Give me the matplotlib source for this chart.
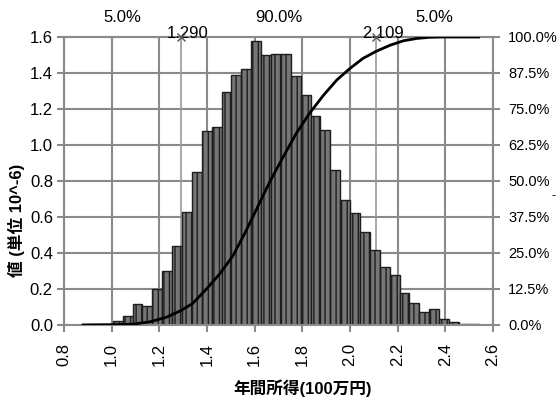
import numpy as np
import matplotlib
matplotlib.use("Agg")
import matplotlib.pyplot as plt
import matplotlib.transforms as mtransforms

plt.rcParams['font.family'] = ['Liberation Sans', 'Noto Sans CJK JP', 'DejaVu Sans']
plt.rcParams['hatch.linewidth'] = 1.0
plt.rcParams['hatch.color'] = '#2a2a2a'

# ---- data ----
bin_start = 0.88
bin_stop = 2.54
n_bins = 40
density = [0.003, 0.005, 0.005, 0.02, 0.05, 0.115, 0.105, 0.20, 0.30, 0.44,
           0.63, 0.85, 1.08, 1.10, 1.295, 1.39, 1.42, 1.58, 1.50, 1.505,
           1.505, 1.385, 1.28, 1.16, 1.085, 0.86, 0.695, 0.62, 0.515, 0.415,
           0.325, 0.28, 0.18, 0.12, 0.075, 0.087, 0.032, 0.018, 0.006, 0.005]

cdf_x = [0.88, 1.00, 1.09, 1.16, 1.23, 1.29, 1.34, 1.40, 1.455, 1.51, 1.565,
         1.62, 1.665, 1.72, 1.775, 1.83, 1.89, 1.945, 2.00, 2.055, 2.109,
         2.17, 2.225, 2.28, 2.335, 2.39, 2.54]
cdf_pct = [0, 0.1, 0.3, 1.1, 2.7, 5.0, 7.5, 12.7, 17.9, 24.2, 32.9,
           42.3, 50.0, 58.4, 66.6, 73.5, 79.9, 85.1, 89.1, 92.6, 95.0,
           97.2, 98.7, 99.5, 99.9, 100, 100]

delimiters = [1.290, 2.109]
delim_labels = ["1.290", "2.109"]
region_labels = ["5.0%", "90.0%", "5.0%"]

x_ticks = [0.8, 1.0, 1.2, 1.4, 1.6, 1.8, 2.0, 2.2, 2.4, 2.6]
y_ticks = [0.0, 0.2, 0.4, 0.6, 0.8, 1.0, 1.2, 1.4, 1.6]
pct_ticks = [0, 12.5, 25, 37.5, 50, 62.5, 75, 87.5, 100]

xlabel = "年間所得(100万円)"
ylabel = "値 (単位 10^-6)"

# ---- figure ----
fig = plt.figure(figsize=(5.58, 4.03), dpi=100)
ax = fig.add_axes([64/558, 1-325/403, (493-64)/558, (325-37)/403])
edges = np.linspace(bin_start, bin_stop, n_bins + 1)
width = edges[1] - edges[0]

grid_c = '#8a8a8a'
ax.set_xlim(0.8, 2.6)
ax.set_ylim(0, 1.6)
ax.set_xticks(x_ticks)
ax.set_yticks(y_ticks)
ax.set_xticklabels([f"{v:.1f}" for v in x_ticks], rotation=90, fontsize=12)
ax.set_yticklabels([f"{v:.1f}" for v in y_ticks], fontsize=12)
ax.grid(True, color=grid_c, linewidth=1.5, zorder=0)
ax.set_axisbelow(True)
for s in ax.spines.values():
    s.set_color(grid_c)
    s.set_linewidth(1.5)
ax.tick_params(axis='both', colors=grid_c, labelcolor='black', length=5, width=1.5)
ax.tick_params(axis='x', pad=8)
ax.tick_params(axis='y', pad=3)

ax.bar(edges[:-1], density, width=width, align='edge', color='#767676',
       edgecolor='#1e1e1e', linewidth=1.0, hatch='|||', zorder=2)

for d in delimiters:
    ax.axvline(d, color='#9a9a9a', linewidth=1.2, zorder=1)

ax2 = ax.twinx()
ax2.set_ylim(0, 100)
ax2.set_yticks(pct_ticks)
ax2.set_yticklabels([f"{v:.1f}%" for v in pct_ticks], fontsize=10.5)
for s in ax2.spines.values():
    s.set_visible(False)
ax2.tick_params(axis='y', colors=grid_c, labelcolor='black', length=5, width=1.5, pad=6)
ax2.plot(cdf_x, cdf_pct, color='black', linewidth=2, zorder=3)

trans = mtransforms.blended_transform_factory(ax.transData, ax.transAxes)
bounds = [0.8] + delimiters + [2.6]
for i, lab in enumerate(region_labels):
    xm = (bounds[i] + bounds[i + 1]) / 2
    ax.text(xm, 1.0 + 19/288, lab, transform=trans, ha='center', va='center', fontsize=12)
for d, lab in zip(delimiters, delim_labels):
    ax.text(d + 0.03, 1.0 + 4/288, lab, transform=trans, ha='center', va='center', fontsize=12)
    ax.plot([d], [1.0], transform=trans, marker='x', color='#555555', markersize=6,
            clip_on=False, zorder=5)

fig.text(303/558, 1 - 388/403, xlabel, ha='center', va='center', fontsize=12, fontweight='bold')
fig.text(16/558, 1 - 220/403, ylabel, ha='center', va='center', fontsize=12,
         fontweight='bold', rotation=90)
fig.text(554/558, 1 - 196/403, "-", ha='center', va='center', fontsize=9)

fig.savefig("out.png", dpi=100)
